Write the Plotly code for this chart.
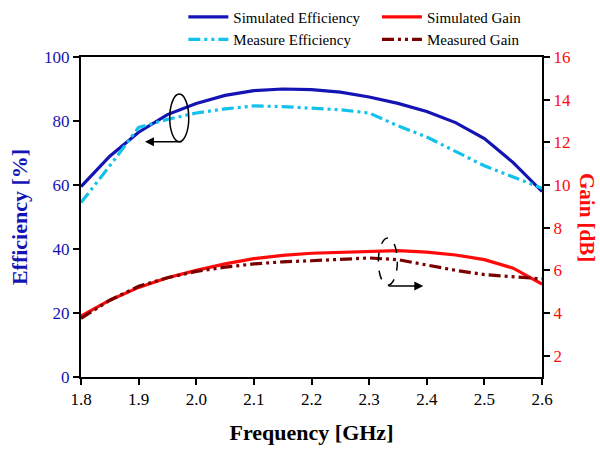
import plotly.graph_objects as go

freq = [1.80, 1.85, 1.90, 1.95, 2.00, 2.05, 2.10, 2.15, 2.20, 2.25, 2.30, 2.35, 2.40, 2.45, 2.50, 2.55, 2.60]
sim_eff = [59.5, 69.0, 76.5, 82.0, 85.5, 88.0, 89.5, 90.0, 89.8, 89.0, 87.5, 85.5, 83.0, 79.5, 74.5, 67.0, 58.0]
meas_eff = [54.5, 66.0, 78.0, 80.5, 82.5, 83.8, 84.7, 84.5, 84.0, 83.5, 82.5, 78.5, 75.0, 70.5, 66.0, 62.5, 59.0]
sim_gain = [3.85, 4.6, 5.2, 5.65, 6.0, 6.3, 6.55, 6.7, 6.8, 6.85, 6.9, 6.92, 6.85, 6.72, 6.5, 6.1, 5.35]
meas_gain = [3.75, 4.6, 5.25, 5.65, 5.95, 6.15, 6.3, 6.4, 6.45, 6.5, 6.58, 6.5, 6.25, 6.0, 5.8, 5.7, 5.6]

x_ticks = [1.8, 1.9, 2.0, 2.1, 2.2, 2.3, 2.4, 2.5, 2.6]
x_labels = ["1.8", "1.9", "2.0", "2.1", "2.2", "2.3", "2.4", "2.5", "2.6"]
eff_ticks = [0, 20, 40, 60, 80, 100]
gain_ticks = [2, 4, 6, 8, 10, 12, 14, 16]

FONT = "Liberation Serif"
BLUE = "#1414B4"
CYAN = "#12C2EA"
RED = "#FF0a0a"
DRED = "#7A0000"
DASH = "12px,4px,3px,4px,3px,4px"

fig = go.Figure()
fig.add_trace(go.Scatter(x=freq, y=sim_eff, mode="lines", name="Simulated Efficiency",
                         line=dict(color=BLUE, width=3.2), legend="legend"))
fig.add_trace(go.Scatter(x=freq, y=meas_eff, mode="lines", name="Measure Efficiency",
                         line=dict(color=CYAN, width=3.2, dash=DASH), legend="legend"))
fig.add_trace(go.Scatter(x=freq, y=sim_gain, mode="lines", name="Simulated Gain",
                         line=dict(color=RED, width=3.2), yaxis="y2", legend="legend2"))
fig.add_trace(go.Scatter(x=freq, y=meas_gain, mode="lines", name="Measured Gain",
                         line=dict(color=DRED, width=3.2, dash=DASH), yaxis="y2", legend="legend2"))

# annotation ellipses and arrows
fig.add_shape(type="circle", xref="x", yref="y", x0=1.954, x1=1.987, y0=73.5, y1=88.4,
              line=dict(color="black", width=1.5))
fig.add_annotation(x=1.911, y=73.5, ax=1.977, ay=73.5, xref="x", yref="y", axref="x", ayref="y",
                   showarrow=True, arrowhead=2, arrowsize=1.2, arrowwidth=1.5, arrowcolor="black", text="")
fig.add_shape(type="circle", xref="x", yref="y", x0=2.316, x1=2.349, y0=28.7, y1=43.4,
              line=dict(color="black", width=1.5, dash="dash"))
fig.add_annotation(x=2.394, y=28.4, ax=2.331, ay=28.4, xref="x", yref="y", axref="x", ayref="y",
                   showarrow=True, arrowhead=2, arrowsize=1.2, arrowwidth=1.5, arrowcolor="black", text="")

fig.add_annotation(text="<b>Gain [dB]</b>", xref="paper", yref="paper", x=1.0, y=0.5,
                   xanchor="center", yanchor="middle", xshift=45, textangle=90, showarrow=False,
                   font=dict(family=FONT, size=21, color=RED))

fig.update_layout(
    width=600, height=451,
    margin=dict(l=81, r=58, t=57, b=74, autoexpand=False),
    paper_bgcolor="white", plot_bgcolor="white",
    font=dict(family=FONT, size=16, color="black"),
    xaxis=dict(range=[1.8, 2.6], tickvals=x_ticks, ticktext=x_labels, showgrid=False, zeroline=False,
               showline=True, linecolor="black", linewidth=2, mirror=True, automargin=False,
               ticks="outside", ticklen=6, tickwidth=2, tickcolor="black",
               tickfont=dict(family=FONT, size=17, color="black"),
               title=dict(text="<b>Frequency [GHz]</b>", font=dict(family=FONT, size=22, color="black"), standoff=16)),
    yaxis=dict(range=[0, 100], tickvals=eff_ticks, showgrid=False, zeroline=False,
               showline=True, linecolor="black", linewidth=2, automargin=False,
               ticks="outside", ticklen=6, tickwidth=2, tickcolor="black",
               tickfont=dict(family=FONT, size=17, color=BLUE),
               title=dict(text="<b>Efficiency [%]</b>", font=dict(family=FONT, size=22, color=BLUE), standoff=10)),
    yaxis2=dict(range=[1, 16], tickvals=gain_ticks, overlaying="y", side="right", showgrid=False, zeroline=False,
                showline=True, linecolor="black", linewidth=2, automargin=False,
                ticks="outside", ticklen=6, tickwidth=2, tickcolor="black",
                tickfont=dict(family=FONT, size=17, color=RED)),
    legend=dict(x=0.222, y=1.176, xref="paper", yref="paper", xanchor="left", yanchor="top",
                orientation="v", bgcolor="rgba(0,0,0,0)", font=dict(family=FONT, size=15, color="black"),
                tracegroupgap=0, itemwidth=40),
    legend2=dict(x=0.642, y=1.176, xref="paper", yref="paper", xanchor="left", yanchor="top",
                 orientation="v", bgcolor="rgba(0,0,0,0)", font=dict(family=FONT, size=15, color="black"),
                 tracegroupgap=0, itemwidth=40),
    showlegend=True,
)

fig.write_html("out.html", config={"displayModeBar": False},
               post_script="document.body.style.margin='0';")
